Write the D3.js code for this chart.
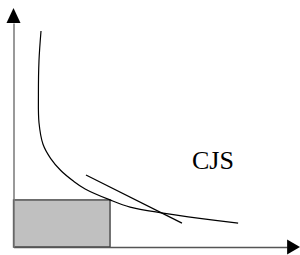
<!DOCTYPE html>
<html>
<head>
<meta charset="utf-8">
<script src="https://cdn.jsdelivr.net/npm/d3@7"></script>
<style>
  body { margin: 0; background: #fff; }
</style>
</head>
<body>
<div id="chart"></div>
<script>
// demand curve points (quantity, price)
var curveQ = [0.96, 0.89, 0.87, 0.89, 1.03, 1.30, 1.65, 2.10, 2.50, 3.37, 4.07, 5.22, 6.50, 7.84];
var curveP = [9.04, 7.80, 6.40, 5.20, 4.30, 3.70, 3.20, 2.75, 2.43, 1.97, 1.67, 1.42, 1.20, 1.00];

// tangent line end points
var tangentQ = [2.53, 5.88];
var tangentP = [3.01, 1.00];

// shaded rectangle corner (sits on the curve)
var rectQ = 3.37;
var rectP = 1.97;

var label = "CJS";
var labelQ = 6.96, labelP = 3.25;

var width = 300, height = 255;
var margin = {top: 8, right: 0, bottom: 8, left: 13.5};

var svg = d3.select("#chart")
  .append("svg")
    .attr("width", width)
    .attr("height", height);

var x = d3.scaleLinear()
  .domain([0, 10])
  .range([margin.left, width - margin.right]);

var y = d3.scaleLinear()
  .domain([0, 10])
  .range([height - margin.bottom, margin.top]);

// rectangle
svg.append("rect")
  .attr("x", x(0))
  .attr("y", y(rectP))
  .attr("width", x(rectQ) - x(0))
  .attr("height", y(0) - y(rectP))
  .attr("fill", "#c0c0c0")
  .attr("stroke", "#3a3a3a")
  .attr("stroke-width", 1.3);

// axes, just the domain lines
var xAxis = svg.append("g")
  .attr("transform", "translate(0," + y(0) + ")")
  .call(d3.axisBottom(x.copy().domain([0, 9.55]).range([x(0), x(9.55)])).tickValues([]).tickSizeOuter(0));
var yAxis = svg.append("g")
  .attr("transform", "translate(" + x(0) + ",0)")
  .call(d3.axisLeft(y.copy().domain([0, 9.37]).range([y(0), y(9.37)])).tickValues([]).tickSizeOuter(0));
xAxis.select(".domain").attr("stroke", "#555").attr("stroke-width", 1.5);
yAxis.select(".domain").attr("stroke", "#777").attr("stroke-width", 1.5);

// arrow heads
var arrowY = [[x(0), y(10)], [x(0) - 7, y(9.37)], [x(0) + 7, y(9.37)]];
var arrowX = [[x(10), y(0)], [x(9.55), y(0) - 7.5], [x(9.55), y(0) + 7.5]];
svg.selectAll(".arrow")
  .data([arrowY, arrowX])
  .enter()
  .append("path")
    .attr("class", "arrow")
    .attr("d", function(d) { return "M" + d.join("L") + "Z"; })
    .attr("fill", "#000");

// demand curve
var curveData = curveQ.map(function(q, i) { return {q: q, p: curveP[i]}; });
svg.append("path")
  .datum(curveData)
  .attr("d", d3.line()
    .x(function(d) { return x(d.q); })
    .y(function(d) { return y(d.p); })
    .curve(d3.curveCatmullRom))
  .attr("fill", "none")
  .attr("stroke", "#000")
  .attr("stroke-width", 1.2);

// tangent
var tangentData = tangentQ.map(function(q, i) { return {q: q, p: tangentP[i]}; });
svg.append("path")
  .datum(tangentData)
  .attr("d", d3.line()
    .x(function(d) { return x(d.q); })
    .y(function(d) { return y(d.p); }))
  .attr("fill", "none")
  .attr("stroke", "#000")
  .attr("stroke-width", 1.2);

// label
svg.append("text")
  .attr("x", x(labelQ))
  .attr("y", y(labelP))
  .attr("text-anchor", "middle")
  .style("font-family", "'Liberation Serif', 'Times New Roman', serif")
  .style("font-size", "26px")
  .text(label);
</script>
</body>
</html>
